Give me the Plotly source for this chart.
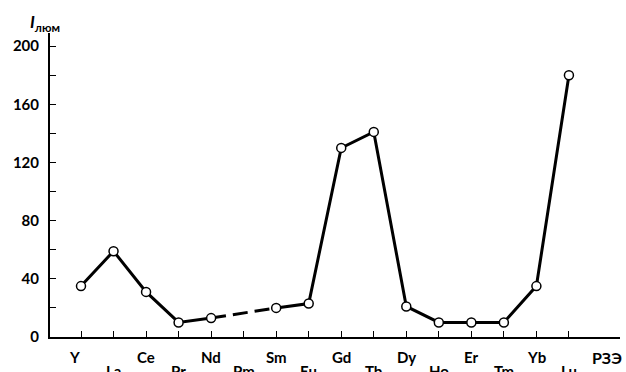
import plotly.graph_objects as go

elements = ["Y", "La", "Ce", "Pr", "Nd", "Pm", "Sm", "Eu", "Gd", "Tb", "Dy", "Ho", "Er", "Tm", "Yb", "Lu"]
intensity = [35, 59, 31, 10, 13, None, 20, 23, 130, 141, 21, 10, 10, 10, 35, 180]
y_ticks = [0, 40, 80, 120, 160, 200]

idx = list(range(len(elements)))
FONT = "Lato"

fig = go.Figure()

# dashed gap section (Nd -> Sm, across Pm)
fig.add_trace(go.Scatter(
    x=[idx[4], idx[6]], y=[intensity[4], intensity[6]],
    mode="lines", line=dict(color="black", width=3, dash="15px,7px"),
    hoverinfo="skip", showlegend=False))

fig.add_trace(go.Scatter(
    x=idx, y=intensity, mode="lines+markers", connectgaps=False,
    line=dict(color="black", width=3),
    marker=dict(size=9, color="white", line=dict(color="black", width=1.5)),
    showlegend=False))

annotations = []
for i, el in enumerate(elements):
    upper = (i % 2 == 0)
    annotations.append(dict(
        x=i, xref="x", y=0, yref="paper", yanchor="middle",
        yshift=-20 if upper else -34, xshift=-7 if i == 0 else 0,
        text=f"<b>{el}</b>", showarrow=False,
        font=dict(family=FONT, size=15, color="black")))

annotations.append(dict(
    x=(607 - 50) / 570, xref="paper", y=0, yref="paper", text="<b>РЗЭ</b>", showarrow=False,
    xanchor="center", yanchor="middle", yshift=-20,
    font=dict(family=FONT, size=16, color="black")))

annotations.append(dict(
    x=0, xref="paper", y=1, yref="paper", text="<b><i>I</i><sub>люм</sub></b>",
    showarrow=False, xanchor="center", yanchor="middle", xshift=-5, yshift=10,
    font=dict(family=FONT, size=17, color="black")))

fig.update_layout(
    width=626, height=372,
    margin=dict(l=50, r=6, t=33, b=35),
    paper_bgcolor="white", plot_bgcolor="white",
    font=dict(family=FONT, size=14, color="black"),
    annotations=annotations,
    xaxis=dict(
        range=[-0.953, 16.57], tickvals=idx, showticklabels=False,
        ticks="inside", ticklen=6, tickwidth=1.3, tickcolor="black",
        showline=True, linecolor="black", linewidth=2,
        showgrid=False, zeroline=False),
    yaxis=dict(
        range=[0, 209], tickvals=y_ticks, ticktext=[f"<b>{v}</b>" for v in y_ticks],
        ticks="inside", ticklen=6, tickwidth=1.3, tickcolor="black",
        minor=dict(dtick=20, tick0=0, ticks="inside", ticklen=6, tickwidth=1.3, tickcolor="black"),
        ticklabelstandoff=6,
        showline=True, linecolor="black", linewidth=2,
        showgrid=False, zeroline=False,
        tickfont=dict(family=FONT, size=15, color="black")),
)

fig.write_html("out.html", config={"displayModeBar": False},
               post_script="document.body.style.margin='0';document.body.style.overflow='hidden';")
